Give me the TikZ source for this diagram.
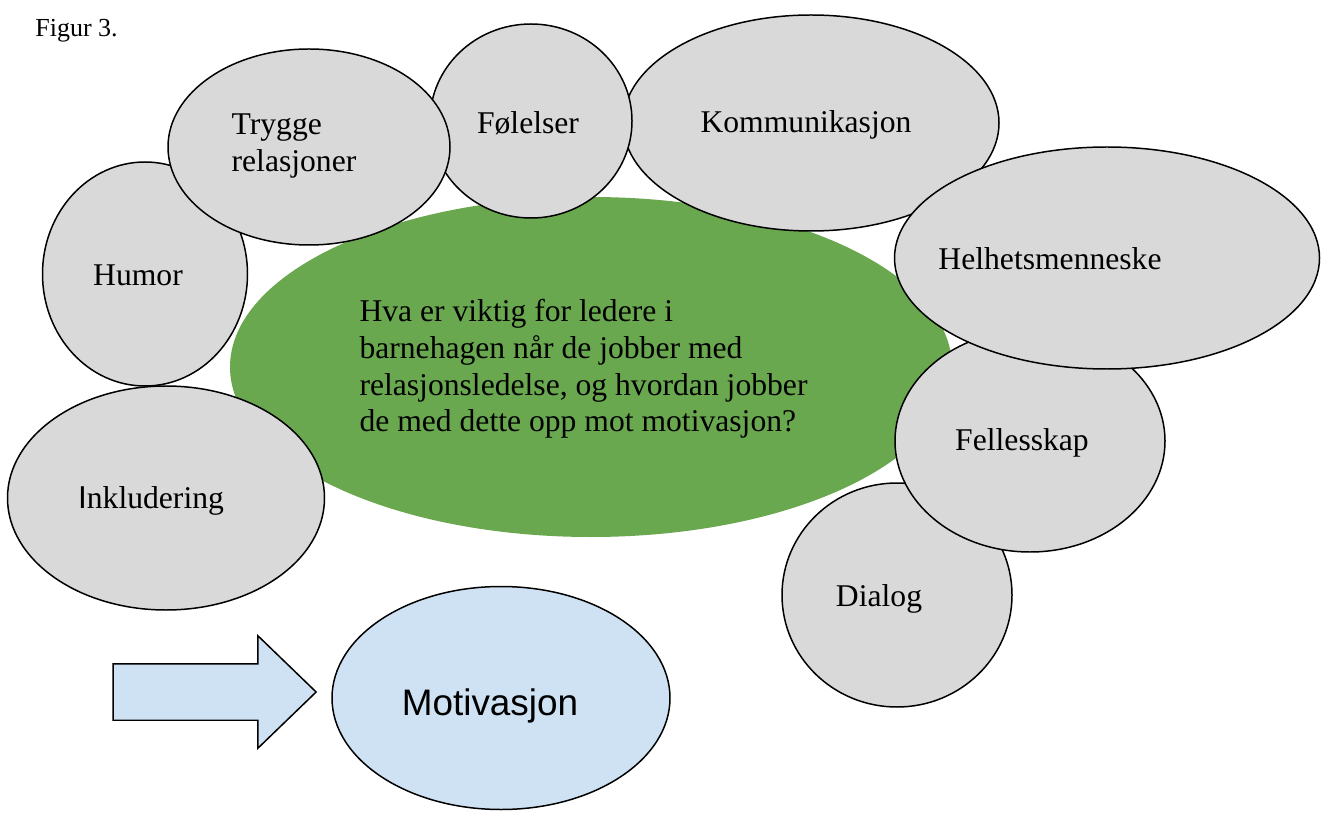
\documentclass[tikz,border=0pt]{standalone}
\usepackage{fontspec}
\setmainfont{Liberation Serif}
\setsansfont{Liberation Sans}
\usetikzlibrary{shapes.geometric,shapes.arrows}
\begin{document}
\begin{tikzpicture}[
    boble/.style={ellipse, draw=black, line width=0.85pt, fill=bobgray, inner sep=0pt},
    tekst/.style={inner sep=0pt, font=\fontsize{18}{20.8}\selectfont}
  ]
  \definecolor{bobgray}{HTML}{D9D9D9}
  \definecolor{midtgreen}{HTML}{6AA84F}
  \definecolor{lysblue}{HTML}{CFE2F3}
  \useasboundingbox (0,0) rectangle (26.68,-16.32);
  \node[anchor=base west, inner sep=0pt, font=\fontsize{14.8}{17}\selectfont] (figur) at (0.70,-0.74) {Figur 3.};
  % midten
  \node[ellipse, fill=midtgreen, minimum width=14.44cm, minimum height=6.80cm] (midt) at (11.82,-7.34) {};
  \node[tekst, align=left] (sporsmal) at (11.67,-7.38) {Hva er viktig for ledere i\\barnehagen når de jobber med\\relasjonsledelse, og hvordan jobber\\de med dette opp mot motivasjon?};
  % boblene rundt
  \node[boble, minimum width=6.34cm, minimum height=4.48cm] (inklud) at (3.32,-9.96) {};
  \node[boble, minimum width=4.10cm, minimum height=4.48cm] (humor) at (2.90,-5.48) {};
  \node[boble, minimum width=4.60cm, minimum height=4.48cm] (dialog) at (17.94,-11.90) {};
  \node[boble, minimum width=5.40cm, minimum height=4.44cm] (felles) at (20.60,-8.82) {};
  \node[boble, minimum width=7.52cm, minimum height=4.32cm] (komm) at (16.22,-2.46) {};
  \node[boble, minimum width=8.50cm, minimum height=4.44cm] (helhet) at (22.14,-5.16) {};
  \node[boble, minimum width=4.04cm, minimum height=3.88cm] (folelser) at (10.62,-2.42) {};
  \node[boble, minimum width=5.64cm, minimum height=3.92cm] (trygge) at (6.18,-2.94) {};
  \node[tekst] (inklud-t) at (3.02,-10.02) {{\sffamily I}nkludering};
  \node[tekst] (humor-t) at (2.76,-5.50) {Humor};
  \node[tekst] (dialog-t) at (17.58,-11.98) {Dialog};
  \node[tekst] (felles-t) at (20.44,-8.86) {Fellesskap};
  \node[tekst] (komm-t) at (16.12,-2.50) {Kommunikasjon};
  \node[tekst] (helhet-t) at (21.00,-5.18) {Helhetsmenneske};
  \node[tekst] (folelser-t) at (10.56,-2.46) {Følelser};
  \node[tekst, align=left] (trygge-t) at (5.88,-2.92) {Trygge\\relasjoner};
  % pil og motivasjon
  \node[single arrow, draw=black, line width=0.85pt, fill=lysblue, minimum height=4.06cm, inner xsep=0pt, inner ysep=0.55cm, single arrow head extend=0.56cm, single arrow tip angle=88] (pil) at (4.00,-13.84) {};
  \node[ellipse, draw=black, line width=0.85pt, fill=lysblue, minimum width=6.76cm, minimum height=4.46cm, inner sep=0pt] (motiv) at (10.02,-13.96) {};
  \node[inner sep=0pt, font=\sffamily\fontsize{21}{24}\selectfont] (motiv-t) at (9.80,-14.12) {Motivasjon};
\end{tikzpicture}
\end{document}
